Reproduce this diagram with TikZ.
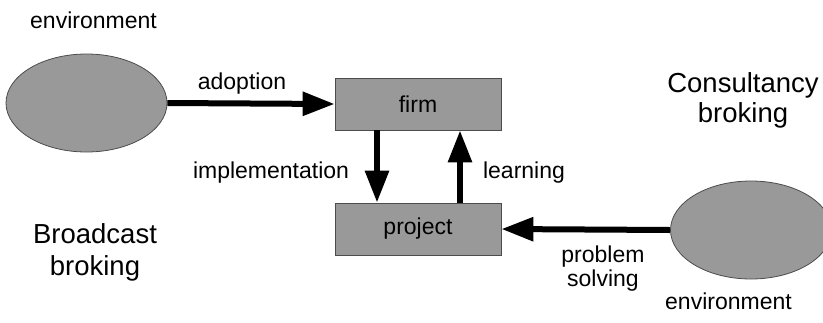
\documentclass[tikz,border=0pt]{standalone}
\usepackage{fontspec}
\setmainfont{Liberation Sans}
\usetikzlibrary{shapes.geometric,arrows.meta}
\begin{document}
\begin{tikzpicture}[x=1bp,y=-1bp,
  shaded/.style={fill=black!40, draw=black!70, line width=0.8bp},
  env/.style={shaded, ellipse, minimum width=161bp, minimum height=98bp, inner sep=0pt},
  box/.style={shaded, rectangle, minimum width=166bp, minimum height=52bp, inner sep=0pt, font=\fontsize{23bp}{27bp}\selectfont},
  lbl/.style={anchor=base, inner sep=0pt, font=\fontsize{23bp}{27bp}\selectfont},
  ttl/.style={anchor=base, inner sep=0pt, font=\fontsize{27.5bp}{32bp}\selectfont},
  flow/.style={line width=6bp, -{Triangle[length=32bp,width=23bp]}}]
\useasboundingbox (0,0) rectangle (823,322);
% shapes
\node[env] (envL) at (86.5,103) {};
\node[env] (envR) at (751,230) {};
\node[box] (firm) at (418,104) {firm};
\node[box] (project) at (418,229) {project};
% connectors
\draw[flow] (envL.east) -- (firm.west);
\draw[flow] ([xshift=-41bp]firm.south) -- ([xshift=-41bp]project.north);
\draw[flow] ([xshift=42bp]project.north) -- ([xshift=42bp]firm.south);
\draw[flow] (envR.west) -- (project.east);
% labels
\node[lbl, anchor=base west] (envLt) at (30,28) {environment};
\node[lbl, anchor=base west] (envRt) at (665,309) {environment};
\node[lbl] (adopt) at (242,89) {adoption};
\node[lbl] (impl) at (271,178) {implementation};
\node[lbl] (learn) at (524,178) {learning};
\node[lbl] (prob1) at (603,262) {problem};
\node[lbl] (prob2) at (603,286) {solving};
\node[ttl] (cons1) at (743,92) {Consultancy};
\node[ttl] (cons2) at (743,122) {broking};
\node[ttl] (broad1) at (95,243) {Broadcast};
\node[ttl] (broad2) at (95,275) {broking};
\end{tikzpicture}
\end{document}
